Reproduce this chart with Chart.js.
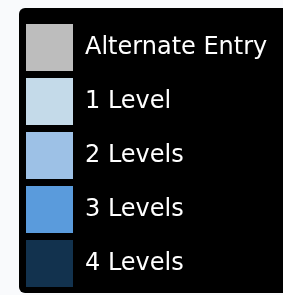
<!DOCTYPE html>
<html>
<head>
<meta charset="utf-8">
<script src="https://cdn.jsdelivr.net/npm/chart.js"></script>
<style>
  html, body { margin: 0; padding: 0; background: #f9fafc; }
  canvas { display: block; }
</style>
</head>
<body>
<canvas id="legendChart" width="283" height="295"></canvas>
<script>
// Legend entries and their colours
const labels = ['Alternate Entry', '1 Level', '2 Levels', '3 Levels', '4 Levels'];
const colors = ['#bdbdbd', '#c4dae9', '#9dc1e6', '#5a9bdc', '#12324e'];
const values = [0, 0, 0, 0, 0];

// dark rounded panel behind the legend
const panelBackground = {
    id: 'panelBackground',
    beforeDraw(chart) {
        const ctx = chart.ctx;
        ctx.save();
        ctx.fillStyle = '#000000';
        ctx.beginPath();
        ctx.roundRect(19, 8, 270, 285, 6);
        ctx.fill();
        ctx.restore();
    }
};

const ctx = document.getElementById('legendChart').getContext('2d');

new Chart(ctx, {
    type: 'bar',
    data: {
        labels: [''],
        datasets: labels.map((name, i) => ({
            label: name,
            data: [values[i]],
            backgroundColor: colors[i],
            borderWidth: 0
        }))
    },
    options: {
        responsive: false,
        animation: false,
        layout: { padding: { left: 19, top: 17, right: 0, bottom: 0 } },
        scales: {
            x: { display: false },
            y: { display: false }
        },
        plugins: {
            tooltip: { enabled: false },
            legend: {
                position: 'left',
                align: 'start',
                maxWidth: 264,
                labels: {
                    boxWidth: 47,
                    boxHeight: 47,
                    padding: 7,
                    color: '#ffffff',
                    font: { family: 'DejaVu Sans', size: 24 }
                }
            }
        }
    },
    plugins: [panelBackground]
});
</script>
</body>
</html>
